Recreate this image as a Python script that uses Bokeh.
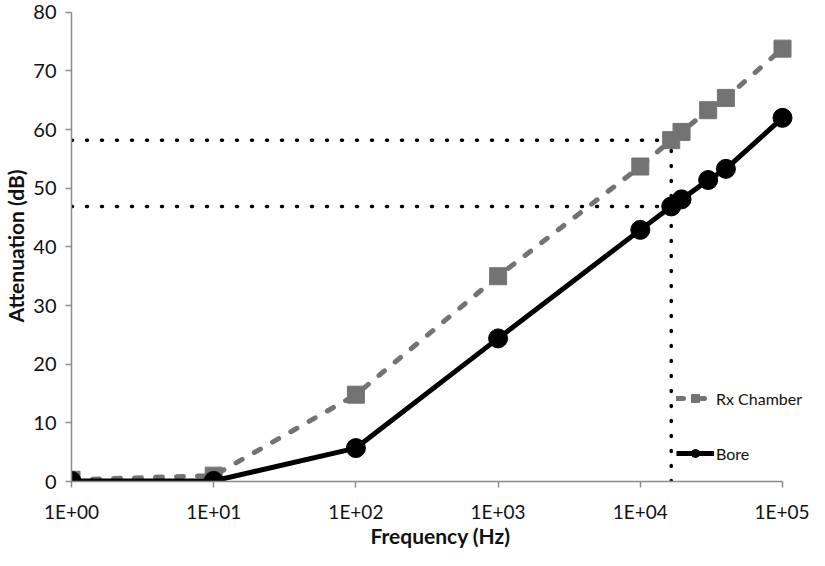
import math
from bokeh.plotting import figure
from bokeh.models import Range1d, FixedTicker, Legend, LegendItem
from bokeh.embed import file_html
from bokeh.resources import INLINE

# ---- data ----
freq = [1, 10, 100, 1000, 10000, 16500, 19500, 30000, 40000, 100000]
rx_chamber = [0.3, 1.0, 14.8, 35.0, 53.7, 58.2, 59.6, 63.3, 65.4, 73.8]
bore = [0.1, 0.1, 5.7, 24.4, 42.9, 46.9, 48.1, 51.4, 53.3, 62.0]

x_ticks = [1, 10, 100, 1000, 10000, 100000]
x_tick_labels = ["1E+00", "1E+01", "1E+02", "1E+03", "1E+04", "1E+05"]
y_ticks = [0, 10, 20, 30, 40, 50, 60, 70, 80]

guide_freq = 16500
guide_rx = 58.2
guide_bore = 46.9

FONT = "Lato"
GRAY = "#737373"
AXIS = "#8c8c8c"

W, H = 809, 550
LEFT = 71
FRAME_W = W - LEFT
DECADE_PX = 142.2
x_end = 10 ** (FRAME_W / DECADE_PX)

p = figure(width=W, height=H, x_axis_type="log",
           x_range=Range1d(1, x_end), y_range=Range1d(0, 80.3),
           output_backend="svg", toolbar_location=None,
           min_border_left=LEFT, min_border_right=0,
           min_border_top=10, min_border_bottom=68)
p.outline_line_color = None
p.grid.visible = False
p.background_fill_color = "white"

# guide lines
for yy in (guide_rx, guide_bore):
    p.line([x_ticks[0], guide_freq], [yy, yy], line_color="black",
           line_width=3.5, line_dash="1 14", line_cap="round")
p.line([guide_freq, guide_freq], [y_ticks[0], guide_rx], line_color="black",
       line_width=3.5, line_dash="1 14", line_cap="round")

# series
rx_line = p.line(freq, rx_chamber, line_color=GRAY, line_width=5,
                 line_dash="7 14", line_cap="round")
p.scatter(freq, rx_chamber, marker="square", size=17, fill_color=GRAY,
          line_color=GRAY)
bore_line = p.line(freq, bore, line_color="black", line_width=5)
p.scatter(freq, bore, marker="circle", size=19, fill_color="black",
          line_color="black")

# small markers hidden below the big ones, used only for the legend glyphs
rx_small = p.scatter(freq, rx_chamber, marker="square", size=11,
                     fill_color=GRAY, line_color=GRAY, level="underlay")
bore_small = p.scatter(freq, bore, marker="circle", size=12,
                       fill_color="black", line_color="black", level="underlay")

legend = Legend(items=[LegendItem(label="Rx Chamber", renderers=[rx_line, rx_small]),
                       LegendItem(label="Bore", renderers=[bore_line, bore_small])],
                location=(605, 18), padding=0, margin=0, spacing=35,
                glyph_width=38, glyph_height=20, label_height=20,
                label_standoff=2, border_line_alpha=0,
                background_fill_alpha=0,
                label_text_font=FONT, label_text_font_size="16px",
                label_text_color="#111111")
p.add_layout(legend, "center")

# axes
p.xaxis.ticker = FixedTicker(ticks=x_ticks, minor_ticks=[])
p.xaxis.major_label_overrides = {t: l for t, l in zip(x_ticks, x_tick_labels)}
p.xaxis.bounds = (x_ticks[0], x_ticks[-1])
p.yaxis.ticker = FixedTicker(ticks=y_ticks, minor_ticks=[])
p.yaxis.bounds = (y_ticks[0], y_ticks[-1])

for ax in (p.xaxis, p.yaxis):
    ax.axis_line_color = AXIS
    ax.axis_line_width = 1.5
    ax.major_tick_line_color = AXIS
    ax.major_tick_line_width = 1.5
    ax.major_tick_in = 0
    ax.major_tick_out = 6
    ax.minor_tick_line_color = None
    ax.major_label_text_font = FONT
    ax.major_label_text_font_size = "20px"
    ax.major_label_text_color = "#111111"
    ax.axis_label_text_font = FONT
    ax.axis_label_text_font_size = "21px"
    ax.axis_label_text_font_style = "bold"
    ax.axis_label_text_color = "#111111"

p.xaxis.major_label_text_font_size = "19px"
p.xaxis.axis_label = "Frequency (Hz)"
p.yaxis.axis_label = "Attenuation (dB)"
p.xaxis.major_label_standoff = 12
p.xaxis.axis_label_standoff = -3
p.yaxis.major_label_standoff = 9
p.yaxis.axis_label_standoff = 2

open("out.html", "w").write(file_html(p, INLINE))
